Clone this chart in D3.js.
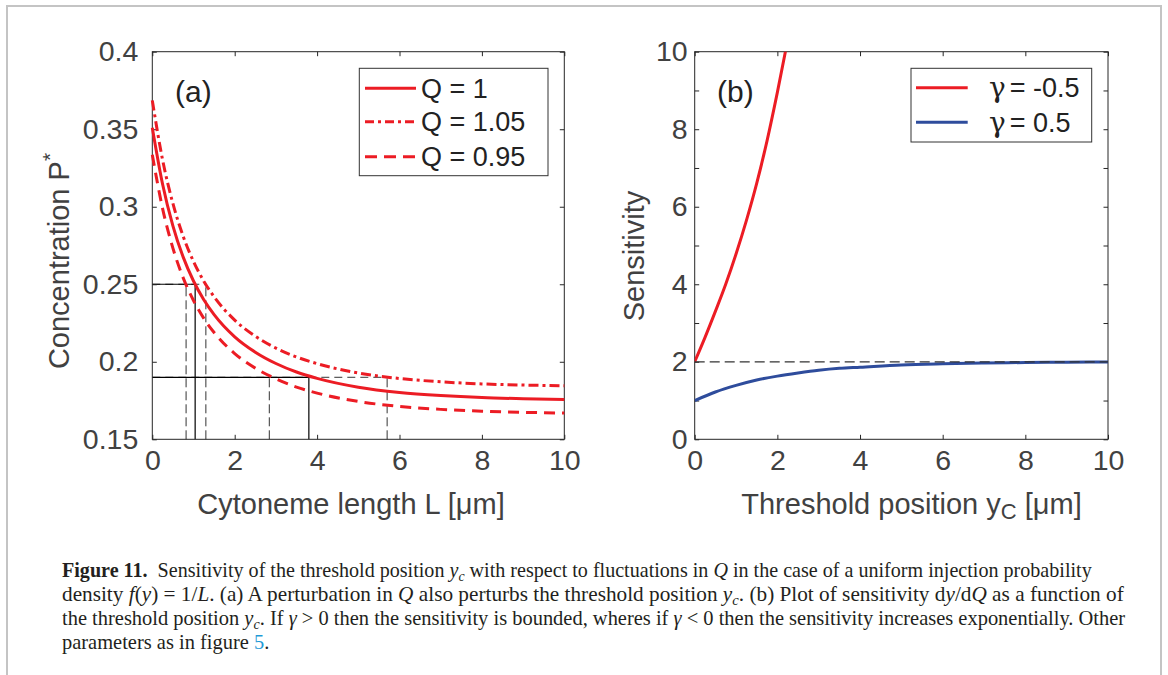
<!DOCTYPE html>
<html>
<head>
<meta charset="utf-8">
<script src="https://cdn.jsdelivr.net/npm/d3@7"></script>
<style>
  html, body { margin: 0; padding: 0; background: #fff; }
  svg { display: block; }
  .sans { font-family: "Liberation Sans", Arial, Helvetica, sans-serif; }
  .serif { font-family: "Liberation Serif", "Times New Roman", serif; }
  .greek { font-family: "DejaVu Serif", "Liberation Serif", serif; }
</style>
</head>
<body>
<svg id="fig" width="1168" height="675"></svg>
<script>
// ---------- Panel (a): steady-state concentration P* against cytoneme length L ----------
const lengths  = [0, 0.25, 0.5, 0.75, 1, 1.25, 1.5, 2, 2.5, 3, 3.5, 4, 5, 6, 7, 8, 9, 10];
const concQ100 = [0.3510, 0.3145, 0.2877, 0.2675, 0.2521, 0.2400, 0.2304, 0.2161, 0.2062, 0.1989, 0.1934, 0.1893, 0.1836, 0.1802, 0.1782, 0.1769, 0.1762, 0.1757];
const concQ105 = [0.3686, 0.3302, 0.3021, 0.2809, 0.2647, 0.2520, 0.2419, 0.2269, 0.2165, 0.2088, 0.2031, 0.1988, 0.1928, 0.1892, 0.1871, 0.1857, 0.1850, 0.1845];
const concQ095 = [0.3335, 0.2988, 0.2733, 0.2541, 0.2395, 0.2280, 0.2189, 0.2053, 0.1959, 0.1890, 0.1837, 0.1798, 0.1744, 0.1712, 0.1693, 0.1681, 0.1674, 0.1669];

// threshold concentrations and the lengths at which each curve reaches them
const thresholds = [0.25, 0.19];
const crossQ100  = [1.04, 3.80];
const crossQ105  = [1.30, 5.70];
const crossQ095  = [0.82, 2.84];

const xTicksA = [0, 2, 4, 6, 8, 10];
const yTicksA = [0.15, 0.2, 0.25, 0.3, 0.35, 0.4];
const yTickLabelsA = ["0.15", "0.2", "0.25", "0.3", "0.35", "0.4"];
const legendA = ["Q = 1", "Q = 1.05", "Q = 0.95"];

// ---------- Panel (b): sensitivity against threshold position ----------
const posNeg  = [0, 0.25, 0.5, 0.75, 1, 1.25, 1.5, 1.75, 2, 2.25];
const sensNeg = [2.0, 2.63, 3.30, 4.00, 4.78, 5.64, 6.60, 7.70, 8.95, 10.3];
const posPos  = [0, 0.5, 1, 1.5, 2, 2.5, 3, 3.5, 4, 5, 6, 7, 8, 9, 10];
const sensPos = [1.0, 1.22, 1.39, 1.53, 1.63, 1.71, 1.78, 1.83, 1.86, 1.92, 1.95, 1.97, 1.98, 1.99, 1.995];
const asymptote = 2;

const xTicksB = [0, 2, 4, 6, 8, 10];
const yTicksB = [0, 1, 2, 3, 4, 5, 6, 7, 8, 9, 10];
const yTickLabelsB = ["0", "", "2", "", "4", "", "6", "", "8", "", "10"];
const legendB = ["= -0.5", "= 0.5"];

// ---------- styling ----------
const RED = "#ec1c24";
const BLUE = "#2e4c9c";
const AXIS = "#262626";
const LABEL = "#414141";
const FS = 28.5;     // tick labels
const FT = 29;       // axis titles

const svg = d3.select("#fig");

// light page frame
svg.append("path")
  .attr("d", "M7,675 L7,6 L1161,6 L1161,675")
  .attr("fill", "none").attr("stroke", "#c4c4c4").attr("stroke-width", 2);

const plotTop = 51.7, plotBottom = 439.3;

function drawAxes(g, x, y, xt, yt, ytLabels, yPad) {
  const styleAxis = sel => {
    sel.select(".domain").remove();
    sel.selectAll(".tick line").attr("stroke", AXIS).attr("stroke-width", 1);
    sel.selectAll("text").attr("class", "sans").attr("font-size", FS).attr("fill", LABEL);
  };
  const [x0, x1] = x.range();
  const [y0, y1] = y.range();
  g.append("g").attr("transform", `translate(0,${y0})`)
    .call(d3.axisBottom(x).tickValues(xt).tickSize(-4.5).tickPadding(10.5).tickFormat(d3.format("d")))
    .call(styleAxis);
  g.append("g").attr("transform", `translate(0,${y1})`)
    .call(d3.axisTop(x).tickValues(xt).tickSize(-4.5).tickFormat(""))
    .call(styleAxis);
  g.append("g").attr("transform", `translate(${x0},0)`)
    .call(d3.axisLeft(y).tickValues(yt).tickSize(-4.5).tickPadding(yPad)
      .tickFormat((d, i) => ytLabels[i]))
    .call(styleAxis);
  g.append("g").attr("transform", `translate(${x1},0)`)
    .call(d3.axisRight(y).tickValues(yt).tickSize(-4.5).tickFormat(""))
    .call(styleAxis);
  g.append("rect")
    .attr("x", x0).attr("y", y1).attr("width", x1 - x0).attr("height", y0 - y1)
    .attr("fill", "none").attr("stroke", AXIS).attr("stroke-width", 1);
}

// ================= Panel (a) =================
const xA = d3.scaleLinear().domain([0, 10]).range([152.3, 564.3]);
const yA = d3.scaleLinear().domain([0.15, 0.4]).range([plotBottom, plotTop]);
const gA = svg.append("g");

// threshold guide lines (under the curves)
const guides = gA.append("g").attr("fill", "none");
thresholds.forEach((level, i) => {
  const farthest = Math.max(crossQ100[i], crossQ105[i], crossQ095[i]);
  guides.append("line")
    .attr("x1", xA(0)).attr("x2", xA(farthest)).attr("y1", yA(level)).attr("y2", yA(level))
    .attr("stroke", "#333").attr("stroke-width", 1).attr("stroke-dasharray", "8,5");
  guides.append("line")
    .attr("x1", xA(0)).attr("x2", xA(crossQ100[i])).attr("y1", yA(level)).attr("y2", yA(level))
    .attr("stroke", "#000").attr("stroke-width", 1.2);
  [crossQ095[i], crossQ105[i]].forEach(c => {
    guides.append("line")
      .attr("x1", xA(c)).attr("x2", xA(c)).attr("y1", yA(0.15)).attr("y2", yA(level))
      .attr("stroke", "#333").attr("stroke-width", 1).attr("stroke-dasharray", "9,4");
  });
  guides.append("line")
    .attr("x1", xA(crossQ100[i])).attr("x2", xA(crossQ100[i])).attr("y1", yA(0.15)).attr("y2", yA(level))
    .attr("stroke", "#000").attr("stroke-width", 1.2);
});

drawAxes(gA, xA, yA, xTicksA, yTicksA, yTickLabelsA, 14);

const seriesA = [
  { values: concQ100, dash: null },
  { values: concQ105, dash: "10,4,3,4" },
  { values: concQ095, dash: "11,7" }
];
const lineA = d3.line().curve(d3.curveMonotoneX);
seriesA.forEach(s => {
  gA.append("path")
    .attr("d", lineA(lengths.map((L, i) => [xA(L), yA(s.values[i])])))
    .attr("fill", "none").attr("stroke", RED).attr("stroke-width", 3)
    .attr("stroke-dasharray", s.dash);
});

// panel tag
gA.append("text").attr("class", "sans").attr("x", 175).attr("y", 102)
  .attr("font-size", 30).attr("fill", "#222").text("(a)");

// legend (a)
const legA = gA.append("g");
legA.append("rect").attr("x", 359.3).attr("y", 68.3).attr("width", 188.7).attr("height", 107.4)
  .attr("fill", "#fff").attr("stroke", "#333").attr("stroke-width", 1);
const legDashA = [null, "9,4,3,4", "12,7"];
const legRowA = [88.3, 121.7, 156.7];
legendA.forEach((label, i) => {
  legA.append("line").attr("x1", 365).attr("x2", 416).attr("y1", legRowA[i]).attr("y2", legRowA[i])
    .attr("stroke", RED).attr("stroke-width", 3).attr("stroke-dasharray", legDashA[i]);
  legA.append("text").attr("class", "sans").attr("x", 421).attr("y", legRowA[i] + 9.5)
    .attr("font-size", 27).attr("fill", "#222").text(label);
});

// axis titles (a)
const ytA = gA.append("text").attr("class", "sans").attr("font-size", FT).attr("fill", LABEL)
  .attr("text-anchor", "middle")
  .attr("transform", "translate(69,261) rotate(-90)");
ytA.append("tspan").text("Concentration P");
ytA.append("tspan").attr("font-size", 21).attr("dy", -12).text("*");

gA.append("text").attr("class", "sans").attr("font-size", FT).attr("fill", LABEL)
  .attr("text-anchor", "middle").attr("x", 351).attr("y", 514)
  .text("Cytoneme length L [\u03BCm]");

// ================= Panel (b) =================
const xB = d3.scaleLinear().domain([0, 10]).range([694.7, 1108]);
const yB = d3.scaleLinear().domain([0, 10]).range([plotBottom, plotTop]);
const gB = svg.append("g");

svg.append("defs").append("clipPath").attr("id", "clipB")
  .append("rect").attr("x", xB(0)).attr("y", yB(10)).attr("width", xB(10) - xB(0)).attr("height", yB(0) - yB(10));

drawAxes(gB, xB, yB, xTicksB, yTicksB, yTickLabelsB, 7);

const lineB = d3.line().curve(d3.curveMonotoneX);
const plotB = gB.append("g").attr("clip-path", "url(#clipB)");
plotB.append("path")
  .attr("d", lineB(posNeg.map((p, i) => [xB(p), yB(sensNeg[i])])))
  .attr("fill", "none").attr("stroke", RED).attr("stroke-width", 3);
plotB.append("path")
  .attr("d", lineB(posPos.map((p, i) => [xB(p), yB(sensPos[i])])))
  .attr("fill", "none").attr("stroke", BLUE).attr("stroke-width", 3);
plotB.append("line")
  .attr("x1", xB(0)).attr("x2", xB(10)).attr("y1", yB(asymptote)).attr("y2", yB(asymptote))
  .attr("stroke", "#333").attr("stroke-width", 1.3).attr("stroke-dasharray", "10,5");

gB.append("text").attr("class", "sans").attr("x", 717).attr("y", 102)
  .attr("font-size", 30).attr("fill", "#222").text("(b)");

// legend (b)
const legB = gB.append("g");
legB.append("rect").attr("x", 911).attr("y", 68.3).attr("width", 180.7).attr("height", 73.7)
  .attr("fill", "#fff").attr("stroke", "#333").attr("stroke-width", 1);
const legRowB = [87.7, 122.3];
const legColB = [RED, BLUE];
legendB.forEach((label, i) => {
  legB.append("line").attr("x1", 916).attr("x2", 967.7).attr("y1", legRowB[i]).attr("y2", legRowB[i])
    .attr("stroke", legColB[i]).attr("stroke-width", 3);
  const t = legB.append("text").attr("x", 989).attr("y", legRowB[i] + 9.5).attr("fill", "#222");
  t.append("tspan").attr("class", "greek").attr("font-size", 28).text("\u03B3");
  t.append("tspan").attr("class", "sans").attr("font-size", 27).attr("dx", 4).text(label);
});

// axis titles (b)
gB.append("text").attr("class", "sans").attr("font-size", FT).attr("fill", LABEL)
  .attr("text-anchor", "middle")
  .attr("transform", "translate(644,256) rotate(-90)")
  .text("Sensitivity");

const xtB = gB.append("text").attr("class", "sans").attr("font-size", FT).attr("fill", LABEL)
  .attr("text-anchor", "middle").attr("x", 911.5).attr("y", 514);
xtB.append("tspan").text("Threshold position y");
xtB.append("tspan").attr("font-size", 22).attr("dy", 5).text("C");
xtB.append("tspan").attr("dy", -5).text(" [\u03BCm]");

// ================= Caption =================
const captionLines = [
  [["Figure 11.", "b"], ["\u2002Sensitivity of the threshold position ", ""], ["y", "i"], ["c", "sub"],
   [" with respect to fluctuations in ", ""], ["Q", "i"], [" in the case of a uniform injection probability", ""]],
  [["density ", ""], ["f", "i"], ["(", ""], ["y", "i"], [") = 1/", ""], ["L", "i"],
   [". (a) A perturbation in ", ""], ["Q", "i"], [" also perturbs the threshold position ", ""], ["y", "i"], ["c", "sub"],
   [". (b) Plot of sensitivity d", ""], ["y", "i"], ["/d", ""], ["Q", "i"], [" as a function of", ""]],
  [["the threshold position ", ""], ["y", "i"], ["c", "sub"], [". If ", ""], ["\u03B3", "i"],
   [" > 0 then the sensitivity is bounded, wheres if ", ""], ["\u03B3", "i"],
   [" < 0 then the sensitivity increases exponentially. Other", ""]],
  [["parameters as in figure ", ""], ["5", "link"], [".", ""]]
];
const captionX = 62;
const captionBase = [577, 601, 625, 649];
const captionEnd = [1092, 1124, 1126, null];

let lastScale = 1;
captionLines.forEach((segs, li) => {
  const t = svg.append("text").attr("class", "serif").attr("font-size", 21).attr("fill", "#231f20")
    .attr("x", 0).attr("y", 0).style("white-space", "pre");
  let shifted = false;
  segs.forEach(([txt, kind]) => {
    const s = t.append("tspan").text(txt);
    if (kind === "b") s.attr("font-weight", "bold");
    if (kind === "i") s.attr("font-style", "italic");
    if (kind === "link") s.attr("fill", "#1f9ad6");
    if (kind === "sub") { s.attr("font-style", "italic").attr("font-size", 14.5).attr("dy", 4); shifted = true; }
    else if (shifted) { s.attr("dy", -4); shifted = false; }
  });
  const w = t.node().getComputedTextLength();
  const k = captionEnd[li] ? (captionEnd[li] - captionX) / w : lastScale;
  lastScale = k;
  t.attr("transform", `translate(${captionX},${captionBase[li]}) scale(${k},1)`);
});
</script>
</body>
</html>
